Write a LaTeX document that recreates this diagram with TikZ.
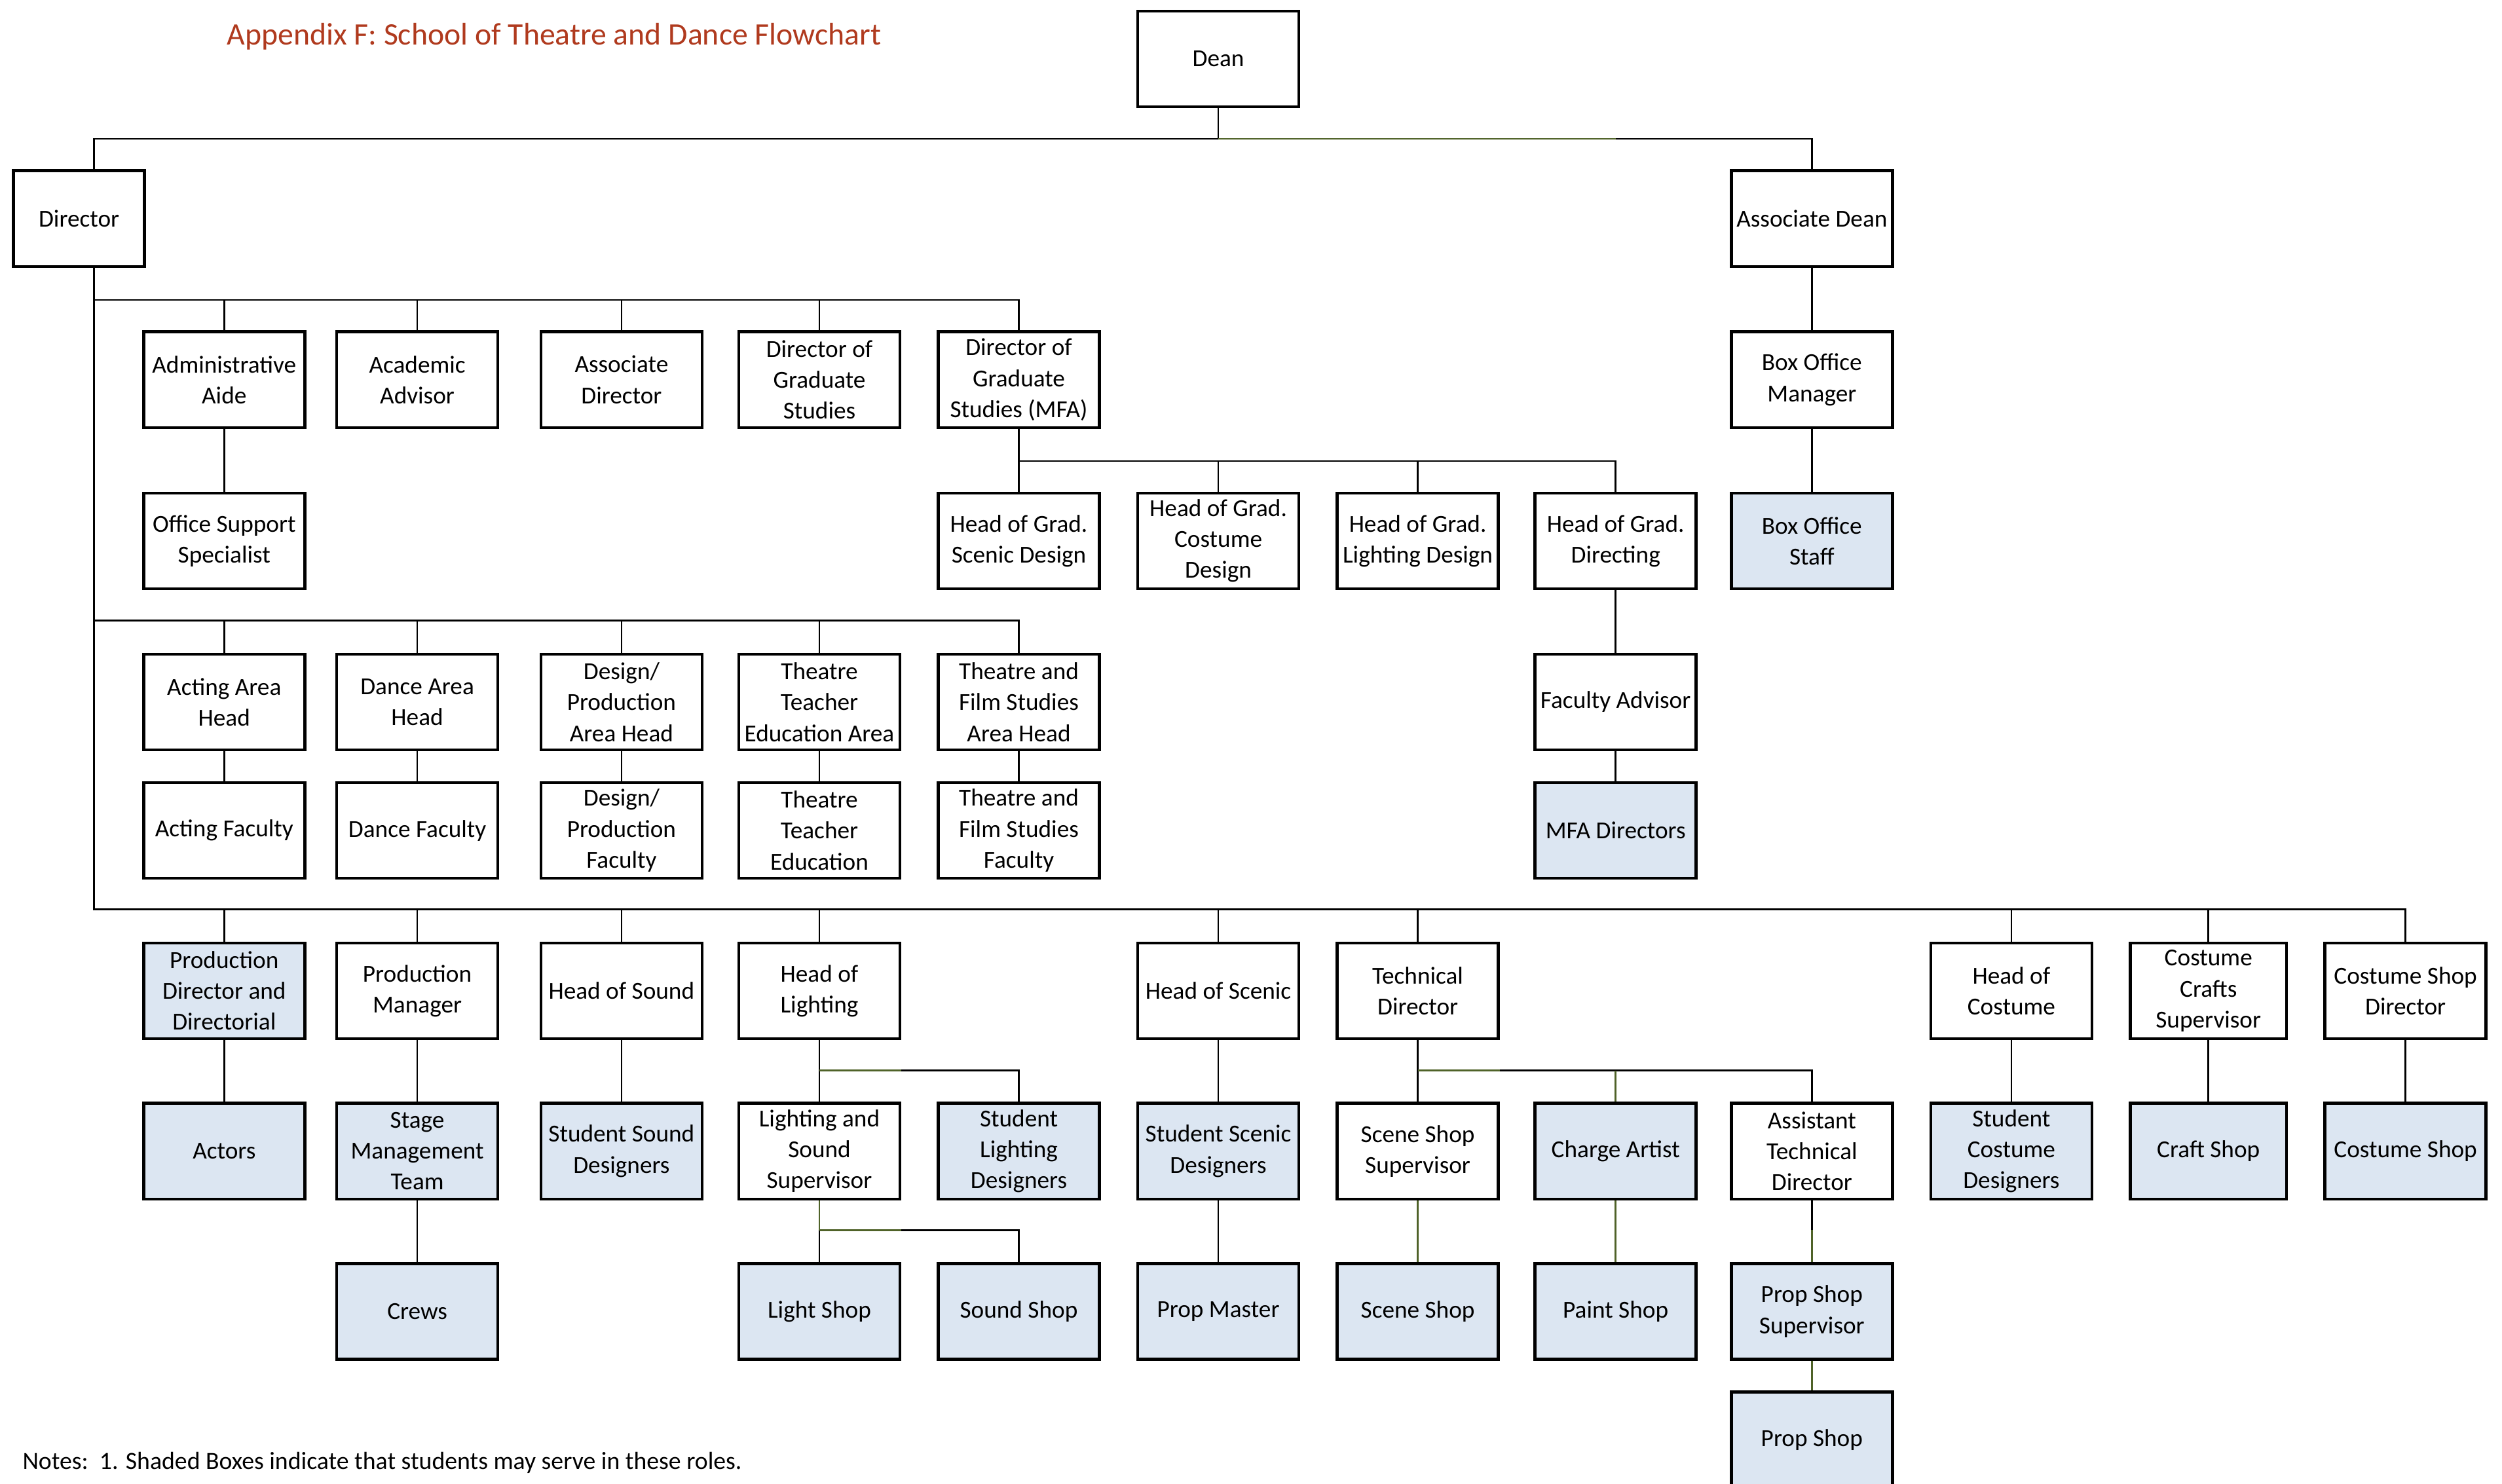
\documentclass[tikz,border=0pt]{standalone}
\usepackage{fontspec}
\setmainfont{Carlito}
\usetikzlibrary{calc}
\definecolor{shade}{RGB}{220,230,242}
\definecolor{gline}{RGB}{79,98,40}
\definecolor{titlec}{RGB}{176,58,30}
\tikzset{
  box/.style={draw, line width=1.85pt, minimum width=101pt, minimum height=60pt, inner sep=0pt, align=center, fill=white, font=\fontsize{15.3}{19.4}\selectfont},
  sbox/.style={box, fill=shade},
  conn/.style={line width=1.1pt, draw=black},
  gconn/.style={line width=1.1pt, draw=gline}
}
\begin{document}
\begin{tikzpicture}[x=1pt,y=-1pt]
\fill[white] (0,0) rectangle (1568,930);
\useasboundingbox (0,0) rectangle (1568,930);

% title and notes
\node[anchor=base west, text=titlec, inner sep=0pt, font=\fontsize{19.6}{23}\selectfont] (title) at (142,28) {Appendix F: School of Theatre and Dance Flowchart};
\node[anchor=base west, inner sep=0pt, font=\fontsize{15.5}{18}\selectfont] (notes) at (14,921) {Notes:\ \ 1. Shaded Boxes indicate that students may serve in these roles.};

% top
\node[box] (dean) at (763.5,37) {Dean};
\node[box, minimum width=82pt] (dir) at (49.5,137) {Director};
\node[box] (adean) at (1135.5,137) {Associate Dean};

% row B
\node[box] (aa) at (140.5,238) {Administrative\\Aide};
\node[box] (acad) at (261.5,238) {Academic\\Advisor};
\node[box] (assoc) at (389.5,238) {Associate\\Director};
\node[box] (dgs) at (513.5,238) {Director of\\Graduate\\Studies};
\node[box] (mfa) at (638.5,238) {Director of\\Graduate\\Studies (MFA)};
\node[box] (bom) at (1135.5,238) {Box Office\\Manager};

% row C
\node[box] (osp) at (140.5,339) {Office Support\\Specialist};
\node[box] (hgs) at (638.5,339) {Head of Grad.\\Scenic Design};
\node[box] (hgc) at (763.5,339) {Head of Grad.\\Costume\\Design};
\node[box] (hgl) at (888.5,339) {Head of Grad.\\Lighting Design};
\node[box] (hgdir) at (1012.5,339) {Head of Grad.\\Directing};
\node[sbox] (bos) at (1135.5,339) {Box Office\\Staff};

% row D
\node[box] (aah) at (140.5,440) {Acting Area\\Head};
\node[box] (dah) at (261.5,440) {Dance Area\\Head};
\node[box] (dpah) at (389.5,440) {Design/\\Production\\Area Head};
\node[box] (tte) at (513.5,440) {Theatre\\Teacher\\Education Area};
\node[box] (tfa) at (638.5,440) {Theatre and\\Film Studies\\Area Head};
\node[box] (fadv) at (1012.5,440) {Faculty Advisor};

% row E
\node[box] (af) at (140.5,520.5) {Acting Faculty};
\node[box] (df) at (261.5,520.5) {Dance Faculty};
\node[box] (dpf) at (389.5,520.5) {Design/\\Production\\Faculty};
\node[box] (ttef) at (513.5,520.5) {Theatre\\Teacher\\Education};
\node[box] (tff) at (638.5,520.5) {Theatre and\\Film Studies\\Faculty};
\node[sbox] (mfad) at (1012.5,520.5) {MFA Directors};

% row F
\node[sbox] (pdd) at (140.5,621) {Production\\Director and\\Directorial};
\node[box] (pm) at (261.5,621) {Production\\Manager};
\node[box] (hsnd) at (389.5,621) {Head of Sound};
\node[box] (hlt) at (513.5,621) {Head of\\Lighting};
\node[box] (hsc) at (763.5,621) {Head of Scenic};
\node[box] (td) at (888.5,621) {Technical\\Director};
\node[box] (hcos) at (1260.5,621) {Head of\\Costume};
\node[box, minimum width=98pt] (ccs) at (1384,621) {Costume\\Crafts\\Supervisor};
\node[box] (csd) at (1507.5,621) {Costume Shop\\Director};

% row G
\node[sbox] (act) at (140.5,721.5) {Actors};
\node[sbox] (smt) at (261.5,721.5) {Stage\\Management\\Team};
\node[sbox] (ssd) at (389.5,721.5) {Student Sound\\Designers};
\node[box] (lss) at (513.5,721.5) {Lighting and\\Sound\\Supervisor};
\node[sbox] (sld) at (638.5,721.5) {Student\\Lighting\\Designers};
\node[sbox] (sscd) at (763.5,721.5) {Student Scenic\\Designers};
\node[box] (sss) at (888.5,721.5) {Scene Shop\\Supervisor};
\node[sbox] (ca) at (1012.5,721.5) {Charge Artist};
\node[box] (atd) at (1135.5,721.5) {Assistant\\Technical\\Director};
\node[sbox] (scd) at (1260.5,721.5) {Student\\Costume\\Designers};
\node[sbox, minimum width=98pt] (crs) at (1384,721.5) {Craft Shop};
\node[sbox] (cosshop) at (1507.5,721.5) {Costume Shop};

% row H
\node[sbox] (crews) at (261.5,822) {Crews};
\node[sbox] (lshop) at (513.5,822) {Light Shop};
\node[sbox] (sshop) at (638.5,822) {Sound Shop};
\node[sbox] (pmast) at (763.5,822) {Prop Master};
\node[sbox] (scshop) at (888.5,822) {Scene Shop};
\node[sbox] (pshop) at (1012.5,822) {Paint Shop};
\node[sbox] (pss) at (1135.5,822) {Prop Shop\\Supervisor};

% row I
\node[sbox] (propshop) at (1135.5,902.5) {Prop Shop};

% bus coordinates
\coordinate (bD) at (59,87);
\coordinate (b1) at (59,188);
\coordinate (b2) at (59,289);
\coordinate (b4) at (59,389);
\coordinate (b3) at (59,570);
\coordinate (b5) at (59,671);
\coordinate (b6) at (59,771);

% Dean level
\draw[conn] (dir.north -| bD) -- (bD) -- (bD -| adean.north) -- (adean.north);
\draw[conn] (dean.south) -- (dean.south |- bD);
\draw[gconn] (dean.south |- bD) -- (bD -| hgdir.north);
\draw[conn] (adean) -- (bom);
\draw[conn] (bom) -- (bos);

% Director trunk
\draw[conn] (dir.south -| bD) -- (b3) -- (b3 -| csd.north) -- (csd.north);

% bus 1
\draw[conn] (b1) -- (b1 -| mfa.north) -- (mfa.north);
\foreach \n in {aa,acad,assoc,dgs} \draw[conn] (\n.north |- b1) -- (\n.north);
\draw[conn] (aa) -- (osp);

% MFA bus
\draw[conn] (mfa.south) -- (hgs.north);
\draw[conn] (mfa.south |- b2) -- (b2 -| hgdir.north) -- (hgdir.north);
\foreach \n in {hgc,hgl} \draw[conn] (\n.north |- b2) -- (\n.north);
\draw[conn] (hgdir) -- (fadv);
\draw[conn] (fadv) -- (mfad);

% bus 4
\draw[conn] (b4) -- (b4 -| tfa.north) -- (tfa.north);
\foreach \n in {aah,dah,dpah,tte} \draw[conn] (\n.north |- b4) -- (\n.north);
\draw[conn] (aah) -- (af);
\draw[conn] (dah) -- (df);
\draw[conn] (dpah) -- (dpf);
\draw[conn] (tte) -- (ttef);
\draw[conn] (tfa) -- (tff);

% bus 3
\foreach \n in {pdd,pm,hsnd,hlt,hsc,td,hcos,ccs} \draw[conn] (\n.north |- b3) -- (\n.north);
\draw[conn] (pdd) -- (act);
\draw[conn] (pm) -- (smt);
\draw[conn] (hsnd) -- (ssd);
\draw[conn] (hsc) -- (sscd);
\draw[conn] (hcos) -- (scd);
\draw[conn] (ccs) -- (crs);
\draw[conn] (csd) -- (cosshop);

% lighting bus
\draw[conn] (hlt.south) -- (lss.north);
\draw[conn] (hlt.south |- b5) -- (b5 -| sld.north) -- (sld.north);
\draw[gconn] (hlt.south |- b5) -- (hlt.south east |- b5);

% technical director bus
\draw[conn] (td.south) -- (sss.north);
\draw[conn] (td.south |- b5) -- (b5 -| atd.north) -- (atd.north);
\draw[gconn] (td.south |- b5) -- (td.south east |- b5);
\draw[gconn] (ca.north |- b5) -- (ca.north);

% lower level
\draw[conn] (smt) -- (crews);
\draw[gconn] (lss.south) -- (lss.south |- b6);
\draw[conn] (lss.south |- b6) -- (lshop.north);
\draw[conn] (lss.south |- b6) -- (b6 -| sshop.north) -- (sshop.north);
\draw[gconn] (lss.south |- b6) -- (lss.south east |- b6);
\draw[conn] (sscd) -- (pmast);
\draw[gconn] (sss) -- (scshop);
\draw[gconn] (ca) -- (pshop);
\draw[conn] (atd.south) -- (atd.south |- b6);
\draw[gconn] (atd.south |- b6) -- (pss.north);
\draw[gconn] (pss) -- (propshop);
\end{tikzpicture}
\end{document}
